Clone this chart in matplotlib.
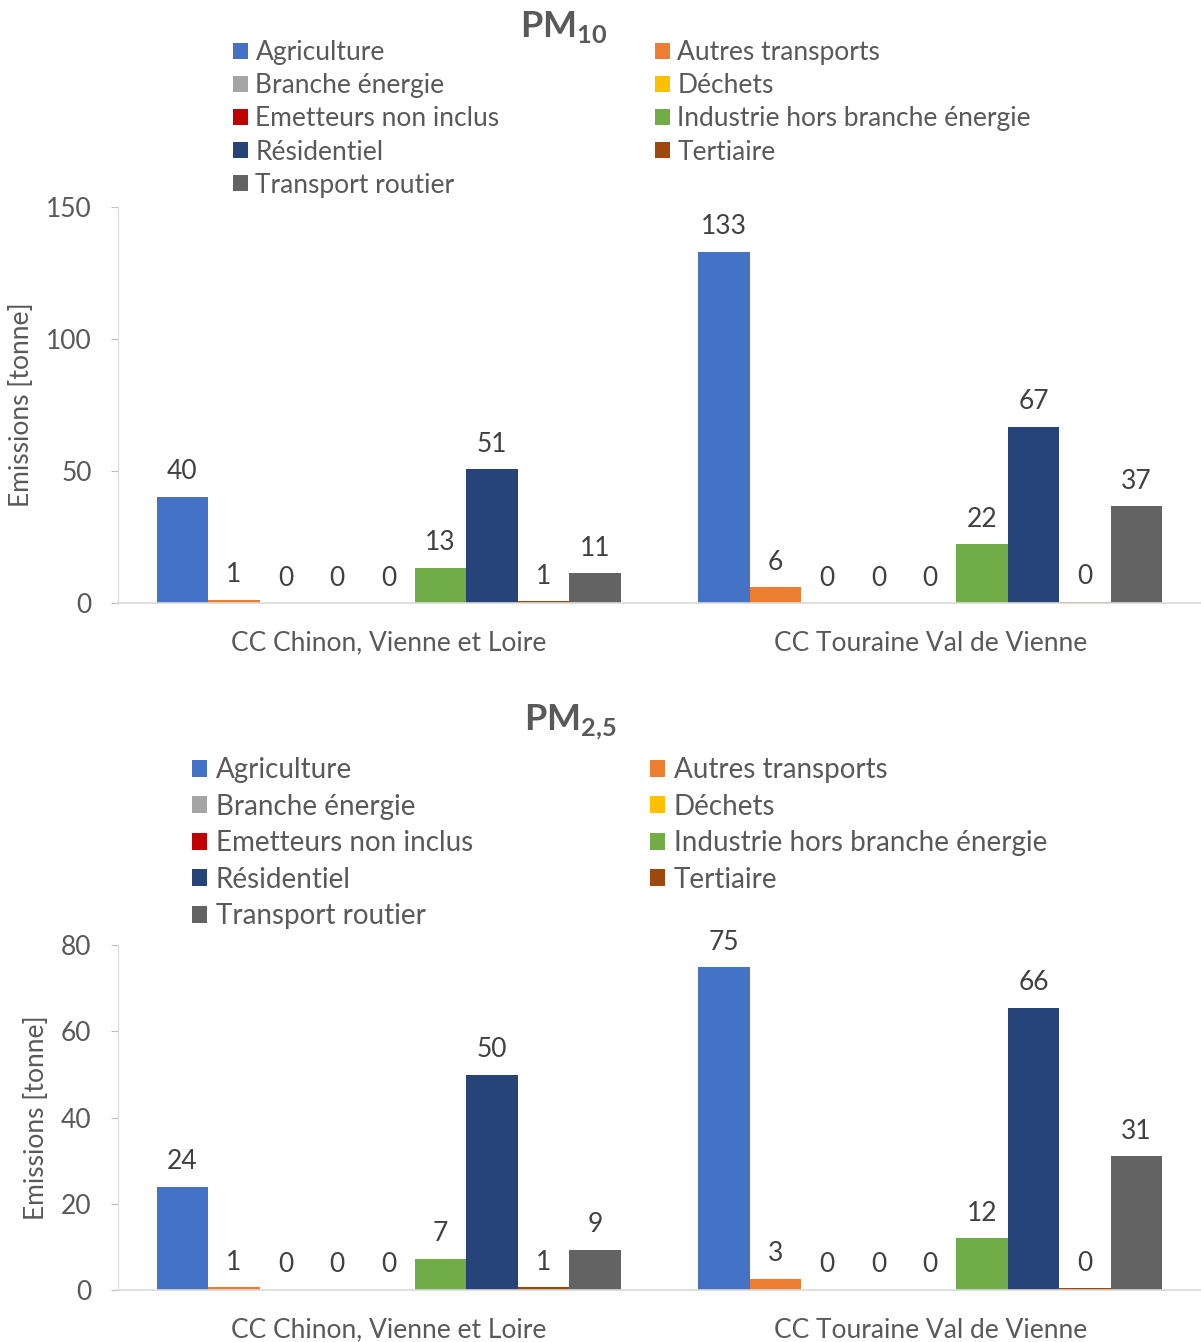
import numpy as np
import matplotlib
matplotlib.use("Agg")
import matplotlib.pyplot as plt
from matplotlib.patches import Patch

plt.rcParams['font.family'] = ['Lato', 'DejaVu Sans']
plt.rcParams['mathtext.fontset'] = 'custom'
plt.rcParams['mathtext.bf'] = 'Lato:bold'
plt.rcParams['mathtext.rm'] = 'Lato'

TXT = '#595959'

territoires = ['CC Chinon, Vienne et Loire', 'CC Touraine Val de Vienne']
secteurs = ['Agriculture', 'Autres transports', 'Branche énergie', 'Déchets',
            'Emetteurs non inclus', 'Industrie hors branche énergie',
            'Résidentiel', 'Tertiaire', 'Transport routier']
couleurs = ['#4472C4', '#ED7D31', '#A5A5A5', '#FFC000', '#C00000',
            '#70AD47', '#264478', '#9E480E', '#636363']

# valeurs par secteur : [Chinon, Touraine]
pm10 = [[40.3, 133.0], [1.3, 5.9], [0, 0], [0, 0], [0, 0],
        [13.3, 22.2], [50.7, 66.8], [0.6, 0.4], [11.3, 36.6]]
pm25 = [[24.0, 74.8], [0.6, 2.6], [0, 0], [0, 0], [0, 0],
        [7.3, 12.0], [49.9, 65.5], [0.6, 0.4], [9.3, 31.0]]

W, H = 1201, 1342
fig = plt.figure(figsize=(W / 100, H / 100), dpi=100)


def panel(vals, ymax, yticks, ax_px, title, title_xy, leg_x, leg_y, ylab_x,
          fs, leg_fs, leg_sp):
    x0, ytop, x1, ybot = ax_px
    ax = fig.add_axes([x0 / W, 1 - ybot / H, (x1 - x0) / W, (ybot - ytop) / H])
    x = np.arange(len(territoires))
    bw = 0.0953
    n = len(secteurs)
    for i, (s, c) in enumerate(zip(secteurs, couleurs)):
        pos = x + (i - (n - 1) / 2) * bw
        bars = ax.bar(pos, vals[i], bw, color=c, label=s)
        ax.bar_label(bars, labels=[f'{v:.0f}' for v in vals[i]], padding=9,
                     fontsize=fs, color='#404040')
    ax.set_xlim(-0.5, 1.5)
    ax.set_ylim(0, ymax)
    ax.set_yticks(yticks)
    ax.set_xticks(x)
    ax.set_xticklabels(territoires)
    ax.tick_params(axis='x', length=0, pad=20, labelsize=fs, labelcolor=TXT)
    ax.tick_params(axis='y', length=5, color='#BFBFBF', labelsize=fs,
                   labelcolor=TXT, pad=14)
    for sp in ['top', 'right']:
        ax.spines[sp].set_visible(False)
    ax.spines['left'].set_color('#D9D9D9')
    ax.spines['bottom'].set_color('#D9D9D9')
    ax.spines['bottom'].set_linewidth(1.2)
    fig.text(ylab_x / W, 1 - (ytop + ybot) / 2 / H, 'Emissions [tonne]',
             rotation=90, ha='center', va='center', fontsize=fs, color=TXT)
    fig.text(title_xy[0] / W, 1 - title_xy[1] / H, title, ha='center',
             va='center', fontsize=26, color=TXT, fontweight='bold')
    handles = [Patch(facecolor=c) for c in couleurs]
    for cols, lx in zip([[0, 2, 4, 6, 8], [1, 3, 5, 7]], leg_x):
        lg = fig.legend([handles[k] for k in cols], [secteurs[k] for k in cols],
                        loc='upper left', bbox_to_anchor=(lx / W, 1 - leg_y / H),
                        frameon=False, fontsize=leg_fs, handlelength=0.55,
                        handleheight=0.55, handletextpad=0.3,
                        labelspacing=leg_sp, borderpad=0, borderaxespad=0)
        for t in lg.get_texts():
            t.set_color(TXT)
    return ax


panel(pm10, 150, [0, 50, 100, 150], (118, 207, 1201, 603),
      r'$\mathbf{PM}_{\mathbf{10}}$', (564, 27), (233, 655), 40, 22, 19, 19, 0.31)
panel(pm25, 80, [0, 20, 40, 60, 80], (118, 945, 1201, 1290),
      r'$\mathbf{PM}_{\mathbf{2{,}5}}$', (570, 722), (192, 650), 757, 37, 19, 20, 0.38)

fig.savefig('out.png', dpi=100)
